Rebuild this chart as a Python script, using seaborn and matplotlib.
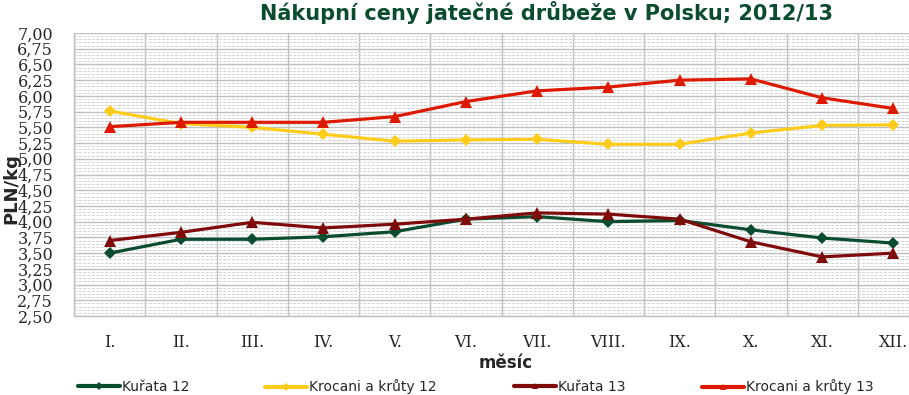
import matplotlib
matplotlib.use("Agg")
import matplotlib.pyplot as plt
from matplotlib.lines import Line2D
from matplotlib.ticker import MultipleLocator, FuncFormatter
import numpy as np
import pandas as pd
import seaborn as sns

# months
months = ["I.", "II.", "III.", "IV.", "V.", "VI.", "VII.", "VIII.", "IX.", "X.", "XI.", "XII."]

# PLN/kg
kurata_12 = [3.50, 3.72, 3.72, 3.76, 3.84, 4.04, 4.08, 4.00, 4.02, 3.87, 3.74, 3.66]
krocani_12 = [5.76, 5.56, 5.50, 5.39, 5.28, 5.30, 5.31, 5.23, 5.23, 5.41, 5.53, 5.54]
kurata_13 = [3.70, 3.83, 3.99, 3.90, 3.96, 4.04, 4.14, 4.12, 4.04, 3.68, 3.44, 3.50]
krocani_13 = [5.51, 5.58, 5.58, 5.58, 5.67, 5.91, 6.08, 6.14, 6.25, 6.27, 5.97, 5.80]

series_names = ["Kuřata 12", "Krocani a krůty 12", "Kuřata 13", "Krocani a krůty 13"]
colors = {"Kuřata 12": "#0A4D2E", "Krocani a krůty 12": "#FFCC1A",
          "Kuřata 13": "#7F0A0A", "Krocani a krůty 13": "#DD1A00"}
markers = {"Kuřata 12": "D", "Krocani a krůty 12": "D",
           "Kuřata 13": "^", "Krocani a krůty 13": "^"}


def build_frame() -> pd.DataFrame:
    """Long table for seaborn."""
    rows = []
    for name, vals in zip(series_names, [kurata_12, krocani_12, kurata_13, krocani_13]):
        for i, v in enumerate(vals):
            rows.append({"x": i, "cena": v, "serie": name})
    return pd.DataFrame(rows)


def main():
    df = build_frame()
    sns.set_style("white")
    plt.rcParams["font.family"] = ["DejaVu Sans"]

    fig = plt.figure(figsize=(9.09, 3.95), dpi=100)
    ax = fig.add_axes([74 / 909, 79 / 395, 855 / 909, 283 / 395])

    grid_c = "#BFBFBF"
    sns.lineplot(data=df, x="x", y="cena", hue="serie", style="serie",
                 hue_order=series_names, style_order=series_names,
                 palette=colors, markers=markers, dashes=False,
                 linewidth=2.3, markersize=6.5, markeredgewidth=0,
                 legend=False, ax=ax, zorder=5)
    for line in ax.lines:
        if line.get_marker() == "^":
            line.set_markersize(8.5)

    ax.set_xlim(-0.5, 11.5)
    ax.set_ylim(2.5, 7.0)

    ax.yaxis.set_major_locator(MultipleLocator(0.25))
    ax.yaxis.set_minor_locator(MultipleLocator(0.05))
    ax.yaxis.set_major_formatter(FuncFormatter(lambda v, p: f"{v:.2f}".replace(".", ",")))
    ax.set_xticks(range(len(months)))
    ax.set_xticklabels(months)
    ax.set_xticks(np.arange(-0.5, 12, 1), minor=True)

    ax.grid(True, which="major", axis="y", color=grid_c, lw=1.0, zorder=0)
    ax.grid(True, which="minor", axis="y", color="#D2D2D2", lw=0.7, ls=(0, (3, 1.5)), zorder=0)
    ax.grid(True, which="minor", axis="x", color=grid_c, lw=1.0, zorder=0)
    ax.set_axisbelow(True)

    ax.tick_params(axis="y", which="major", length=5, color=grid_c, pad=10, labelsize=11.5)
    ax.tick_params(axis="y", which="minor", length=0)
    ax.tick_params(axis="x", which="major", length=0, pad=13, labelsize=11.5)
    ax.tick_params(axis="x", which="minor", length=7, color=grid_c)
    for lab in ax.get_xticklabels() + ax.get_yticklabels():
        lab.set_fontfamily("DejaVu Serif")

    for s in ["top", "right"]:
        ax.spines[s].set_visible(False)
    for s in ["left", "bottom"]:
        ax.spines[s].set_color(grid_c)
        ax.spines[s].set_linewidth(1.0)

    ax.set_xlabel("")
    ax.set_ylabel("")
    fig.text(11 / 909, 1 - 189 / 395, "PLN/kg", rotation=90, ha="center", va="center",
             fontsize=13, fontweight="bold")
    fig.text(506 / 909, 1 - 363 / 395, "měsíc", ha="center", va="center",
             fontsize=12, fontweight="bold")
    fig.text(546 / 909, 1 - 12 / 395, "Nákupní ceny jatečné drůbeže v Polsku; 2012/13",
             ha="center", va="center", fontsize=15, fontweight="bold", color="#0A4D2E")

    # legend entries, placed like the original
    leg_x = [78, 265, 514, 702]
    for name, xpos in zip(series_names, leg_x):
        h = Line2D([], [], color=colors[name], lw=3, marker=markers[name],
                   markersize=4, markeredgewidth=0)
        fig.legend([h], [name], loc="center left",
                   bbox_to_anchor=(xpos / 909, 1 - 387 / 395),
                   frameon=False, handlelength=3.0, handletextpad=0.2,
                   fontsize=10, borderaxespad=0, borderpad=0)

    fig.savefig("out.png", dpi=100)


if __name__ == "__main__":
    main()
